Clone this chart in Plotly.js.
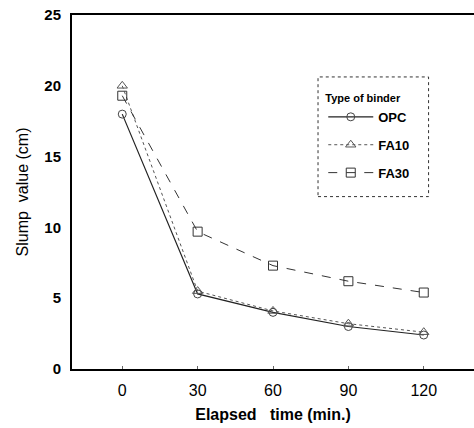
<!DOCTYPE html>
<html><head><meta charset="utf-8">
<script src="https://cdn.plot.ly/plotly-3.0.1.min.js"></script>
<style>html,body{margin:0;padding:0;background:#fff}</style>
</head><body>
<div id="chart" style="width:474px;height:428px"></div>
<script>
const time = [0, 30, 60, 90, 120];
const seriesNames = ["OPC", "FA10", "FA30"];
const opc  = [18.0, 5.3, 4.0, 3.0, 2.4];
const fa10 = [20.0, 5.5, 4.1, 3.2, 2.6];
const fa30 = [19.3, 9.7, 7.3, 6.2, 5.4];
const xTicks = [0, 30, 60, 90, 120];
const yTicks = [0, 5, 10, 15, 20, 25];

const traces = [
  {x: time, y: opc, name: '<b>' + seriesNames[0] + '</b>', legendgroup: 'a', mode: 'lines+markers',
   line: {color: '#222', width: 1.2},
   marker: {symbol: 'circle-open', size: 8, color: '#444', line: {width: 1}}},
  {x: time, y: fa10, name: '<b>' + seriesNames[1] + '</b>', legendgroup: 'b', mode: 'lines+markers',
   line: {color: '#555', width: 1, dash: 'dot'},
   marker: {symbol: 'triangle-up-open', size: 9, color: '#555', line: {width: 1}}},
  {x: time, y: fa30, name: '<b>' + seriesNames[2] + '</b>', legendgroup: 'c', mode: 'lines+markers',
   line: {color: '#333', width: 1, dash: 'dash'},
   marker: {symbol: 'square-open', size: 9, color: '#333', line: {width: 1}}}
];

const layout = {
  width: 474, height: 428,
  margin: {l: 72, r: 0, t: 15, b: 59},
  paper_bgcolor: '#fff', plot_bgcolor: '#fff',
  font: {family: 'Liberation Sans, Arial, sans-serif', color: '#000'},
  showlegend: true,
  legend: {
    x: 0.625, y: 0.795, xanchor: 'left', yanchor: 'top',
    bgcolor: 'rgba(0,0,0,0)', borderwidth: 0,
    title: {text: '<b>Type of binder</b>', font: {size: 11, color: '#000'}, side: 'top'},
    font: {size: 13, color: '#000'},
    traceorder: 'grouped', tracegroupgap: 8,
    itemwidth: 45
  },
  shapes: [{
    type: 'rect', xref: 'paper', yref: 'paper',
    x0: 0.612, x1: 0.887, y0: 0.487, y1: 0.825,
    line: {color: '#333', width: 1, dash: 'dot'}
  }],
  xaxis: {
    range: [-20, 140], tickvals: xTicks, ticktext: xTicks.map(String),
    showgrid: false, zeroline: false,
    showline: true, linecolor: '#000', linewidth: 2, mirror: true,
    ticks: 'inside', ticklen: 3, tickcolor: '#666',
    ticklabelstandoff: 6,
    tickfont: {size: 16, color: '#000'},
    title: {text: '<b>Elapsed   time (min.)</b>', font: {size: 16, color: '#000'}, standoff: 11}
  },
  yaxis: {
    range: [0, 25], tickvals: yTicks, ticktext: yTicks.map(v => '<b>' + v + '</b>'),
    showgrid: false, zeroline: false,
    showline: true, linecolor: '#000', linewidth: 2,
    ticks: '', ticklabelstandoff: 6,
    tickfont: {size: 15, color: '#000'},
    title: {text: 'Slump  value (cm)', font: {size: 16, color: '#000'}, standoff: 12}
  }
};

Plotly.newPlot('chart', traces, layout, {displayModeBar: false, staticPlot: true});
</script>
</body></html>
